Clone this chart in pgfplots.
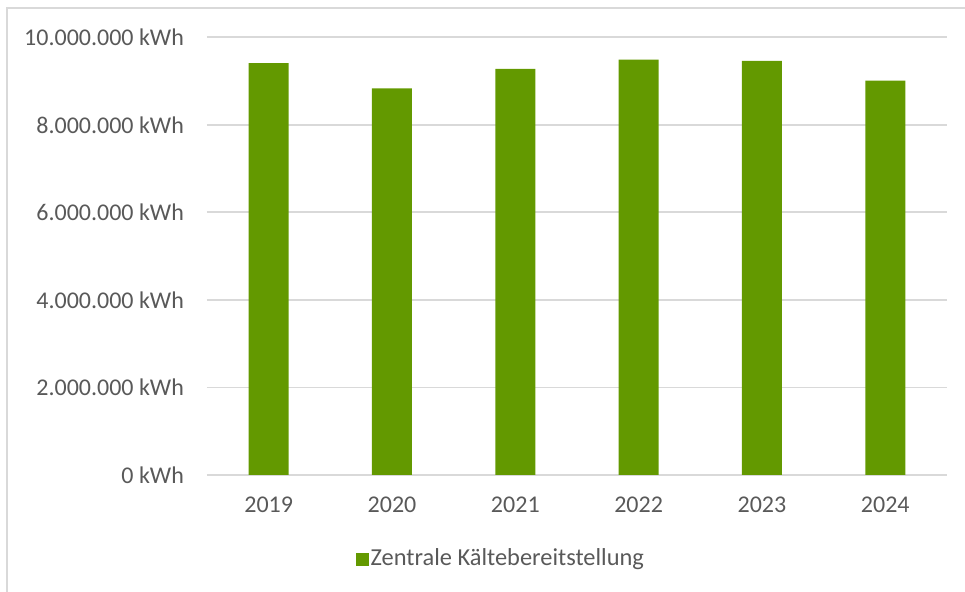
\documentclass[border=0pt]{standalone}
\usepackage{pgfplots}
\pgfplotsset{compat=1.18}
\usepackage{fontspec}
\setmainfont{Carlito}
\definecolor{barc}{RGB}{99,153,0}
\definecolor{gridc}{RGB}{217,217,217}
\definecolor{txt}{RGB}{89,89,89}
\begin{document}
\begin{tikzpicture}
\useasboundingbox (0,0) rectangle (482.5pt,296pt);
\draw[gridc, line width=0.7pt] (3.5pt,0pt) -- (3.5pt,292pt) -- (482.5pt,292pt);
\begin{axis}[
  at={(103.5pt,58.5pt)}, anchor=south west,
  scale only axis, width=370pt, height=218.85pt,
  ybar, bar width=20pt,
  xmin=-0.5, xmax=5.5, ymin=0, ymax=10000000,
  scaled y ticks=false,
  xtick={0,1,2,3,4,5},
  xticklabels={2019,2020,2021,2022,2023,2024},
  ytick={0,2000000,4000000,6000000,8000000,10000000},
  yticklabels={0 kWh,2.000.000 kWh,4.000.000 kWh,6.000.000 kWh,8.000.000 kWh,10.000.000 kWh},
  axis line style={draw=none},
  major tick length=0pt,
  ymajorgrids, grid style={gridc, line width=0.9pt},
  tick label style={font=\fontsize{12}{14}\selectfont, text=txt},
  yticklabel style={anchor=east, xshift=-8pt},
  xticklabel style={anchor=north, yshift=-7.5pt},
  legend style={at={(0.397,-0.192)}, anchor=center, draw=none, fill=none,
    font=\fontsize{12.2}{14}\selectfont, text=txt,
    nodes={inner sep=0.8pt}},
  legend image code/.code={\fill[barc] (0pt,-3.25pt) rectangle (6.5pt,3.25pt);},
]
\addplot[fill=barc, draw=none] coordinates {
  (0,9410000) (1,8830000) (2,9280000) (3,9490000) (4,9460000) (5,9010000)
};
\addlegendentry{Zentrale Kältebereitstellung}
\end{axis}
\end{tikzpicture}
\end{document}
